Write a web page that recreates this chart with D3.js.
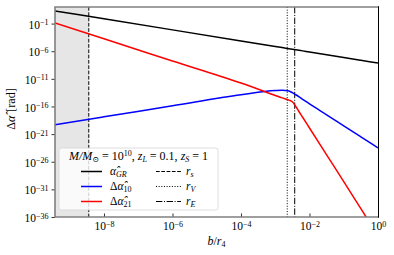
<!DOCTYPE html>
<html>
<head>
<meta charset="utf-8">
<script src="https://cdn.jsdelivr.net/npm/d3@7"></script>
<style>
  body { margin: 0; background: #fff; }
  text { font-family: "Liberation Serif", "DejaVu Serif", serif; }
</style>
</head>
<body>
<script>
  var w = 394, h = 255;
  var margin = {left: 55, top: 7, right: 16, bottom: 38};

  // b / r4 sample points (log10) and the three curves (log10 of rad)
  var logB      = [-9.43, -8, -6, -4, -3, -2.8, -2.6, -2.5, -2.4, -2.3, -2.2, -2, -1.5, -1, -0.5, 0];
  var alphaGR   = [1.29, -0.14, -2.14, -4.14, -5.14, -5.34, -5.54, -5.64, -5.74, -5.84, -5.94, -6.14, -6.64, -7.14, -7.64, -8.14];
  var dAlpha10  = [-19.3, -17.87, -15.87, -13.87, -13.1, -13.05, -13.2, -13.5, -13.88, -14.28, -14.7, -15.55, -17.5, -19.5, -21.5, -23.5];
  var dAlpha21  = [-0.88, -3.76, -7.76, -11.76, -14.0, -14.45, -14.85, -15.15, -16.0, -17.0, -17.95, -19.9, -24.75, -29.6, -34.5, -39.4];

  var rS = 3.6e-9, rV = 2.24e-3, rE = 3.7e-3;
  var xTicks = [1e-8, 1e-6, 1e-4, 1e-2, 1];
  var yTicks = [1e-36, 1e-31, 1e-26, 1e-21, 1e-16, 1e-11, 1e-6, 1e-1];

  var series = [
    {name: "GR", vals: alphaGR, color: "#000000"},
    {name: "10", vals: dAlpha10, color: "#0000ff"},
    {name: "21", vals: dAlpha21, color: "#ff0000"}
  ];

  var svg = d3.select("body").append("svg")
    .attr("width", w).attr("height", h);

  var x = d3.scaleLog().domain([Math.pow(10, -9.43), 1]).range([margin.left, w - margin.right]);
  var y = d3.scaleLog().domain([1e-36, 1e2]).range([h - margin.bottom, margin.top]);

  svg.append("clipPath").attr("id", "clip").append("rect")
    .attr("x", x.range()[0]).attr("y", y.range()[1])
    .attr("width", x.range()[1] - x.range()[0])
    .attr("height", y.range()[0] - y.range()[1]);

  var plot = svg.append("g").attr("clip-path", "url(#clip)");

  // shaded region left of r_s
  plot.append("rect")
    .attr("x", x.range()[0]).attr("y", y.range()[1])
    .attr("width", x(rS) - x.range()[0])
    .attr("height", y.range()[0] - y.range()[1])
    .attr("fill", "#e6e6e6");

  var vlines = [
    {v: rS, dash: "3.7,1.6"},
    {v: rV, dash: "1,1.65"},
    {v: rE, dash: "6.4,1.6,1,1.6"}
  ];
  plot.selectAll(".vl").data(vlines).enter().append("line")
    .attr("x1", function (d) { return x(d.v); })
    .attr("x2", function (d) { return x(d.v); })
    .attr("y1", y.range()[1]).attr("y2", y.range()[0])
    .attr("stroke", "#000").attr("stroke-width", 1)
    .attr("stroke-dasharray", function (d) { return d.dash; });

  var line = d3.line()
    .x(function (d) { return x(Math.pow(10, d[0])); })
    .y(function (d) { return y(Math.pow(10, d[1])); })
    .curve(d3.curveMonotoneX);

  plot.selectAll(".curve").data(series).enter().append("path")
    .attr("fill", "none")
    .attr("stroke", function (d) { return d.color; })
    .attr("stroke-width", 1.5)
    .attr("d", function (d) { return line(d3.zip(logB, d.vals)); });

  function supLabel(sel) {
    sel.each(function (d) {
      var t = d3.select(this), e = Math.round(Math.log10(d));
      t.text(null);
      t.append("tspan").text("10");
      t.append("tspan").attr("dy", "-0.45em").attr("font-size", "8px")
        .text(e < 0 ? "\u2212" + (-e) : e);
    });
  }

  // axes
  var gx = svg.append("g")
    .attr("transform", "translate(0," + y.range()[0] + ")")
    .call(d3.axisBottom(x).tickValues(xTicks).tickSizeInner(-3.5).tickSizeOuter(0).tickPadding(5));
  gx.select(".domain").remove();
  gx.selectAll(".tick line").attr("stroke", "#333");
  gx.selectAll(".tick text").attr("font-size", "11.5px").attr("fill", "#000").call(supLabel);

  var gy = svg.append("g")
    .attr("transform", "translate(" + x.range()[0] + ",0)")
    .call(d3.axisLeft(y).tickValues(yTicks).tickSizeInner(3.5).tickSizeOuter(0).tickPadding(3));
  gy.select(".domain").remove();
  gy.selectAll(".tick line").attr("stroke", "#333");
  gy.selectAll(".tick text").attr("font-size", "11.5px").attr("fill", "#000").attr("dy", "0.4em").call(supLabel);

  // spines
  var x0 = x.range()[0], x1 = x.range()[1], y0 = y.range()[1], y1 = y.range()[0];
  svg.append("path").attr("d", "M" + x1 + "," + y0 + "H" + x0 + "V" + y1 + "H" + x1)
    .attr("fill", "none").attr("stroke", "#808080").attr("stroke-width", 1.6);
  svg.append("line").attr("x1", x1 + 0.5).attr("x2", x1 + 0.5).attr("y1", y0 - 0.8).attr("y2", y1 + 0.8)
    .attr("stroke", "#000").attr("stroke-width", 1);

  // axis labels
  svg.append("text")
    .attr("x", (x0 + x1) / 2).attr("y", 245)
    .attr("text-anchor", "middle").attr("font-size", "12px")
    .call(function (t) {
      t.append("tspan").attr("font-style", "italic").text("b");
      t.append("tspan").text("/");
      t.append("tspan").attr("font-style", "italic").text("r");
      t.append("tspan").attr("font-size", "8px").attr("dy", "2").text("4");
    });

  svg.append("text")
    .attr("transform", "translate(15," + ((y0 + y1) / 2 - 3) + ") rotate(-90)")
    .attr("text-anchor", "middle").attr("font-size", "12px")
    .call(function (t) {
      t.append("tspan").text("\u0394");
      t.append("tspan").attr("font-style", "italic").text("\u03b1\u0302");
      t.append("tspan").attr("dx", "4").text("[rad]");
    });

  // legend
  var leg = svg.append("g");
  leg.append("rect")
    .attr("x", 59).attr("y", 148).attr("width", 159).attr("height", 62)
    .attr("rx", 2.5).attr("fill", "#ffffff").attr("fill-opacity", 0.8)
    .attr("stroke", "#d6d6d6").attr("stroke-width", 0.8);

  leg.append("text").attr("x", 138.5).attr("y", 160)
    .attr("text-anchor", "middle").attr("font-size", "12px").attr("font-style", "italic")
    .call(function (t) {
      t.append("tspan").text("M/M");
      t.append("tspan").attr("font-size", "8px").attr("dy", "2").attr("font-style", "normal").text("\u2299");
      t.append("tspan").attr("dy", "-2").attr("font-style", "normal").text(" = 10");
      t.append("tspan").attr("font-size", "8px").attr("dy", "-4").attr("font-style", "normal").text("10");
      t.append("tspan").attr("dy", "4").attr("font-style", "normal").text(", ");
      t.append("tspan").text("z");
      t.append("tspan").attr("font-size", "8px").attr("dy", "2").text("L");
      t.append("tspan").attr("dy", "-2").attr("font-style", "normal").text(" = 0.1, ");
      t.append("tspan").text("z");
      t.append("tspan").attr("font-size", "8px").attr("dy", "2").text("S");
      t.append("tspan").attr("dy", "-2").attr("font-style", "normal").text(" = 1");
    });

  var rowsY = [171.5, 186.5, 201.5];
  var subs = ["GR", "10", "21"];
  series.forEach(function (s, i) {
    leg.append("line").attr("x1", 81).attr("x2", 102)
      .attr("y1", rowsY[i]).attr("y2", rowsY[i])
      .attr("stroke", s.color).attr("stroke-width", 1.5);
    var t = leg.append("text").attr("x", 110).attr("y", rowsY[i] + 3.5).attr("font-size", "11.5px");
    if (i === 0) {
      t.append("tspan").attr("font-style", "italic").text("\u03b1\u0302");
      t.append("tspan").attr("font-size", "8px").attr("font-style", "italic").attr("dy", "2").text(subs[i]);
    } else {
      t.append("tspan").text("\u0394");
      t.append("tspan").attr("font-style", "italic").text("\u03b1\u0302");
      t.append("tspan").attr("font-size", "8px").attr("dy", "2").text(subs[i]);
    }
  });

  var rightLabels = ["s", "V", "E"];
  vlines.forEach(function (v, i) {
    leg.append("line").attr("x1", 156).attr("x2", 181)
      .attr("y1", rowsY[i]).attr("y2", rowsY[i])
      .attr("stroke", "#000").attr("stroke-width", 1)
      .attr("stroke-dasharray", v.dash);
    var t = leg.append("text").attr("x", 186).attr("y", rowsY[i] + 3).attr("font-size", "11.5px").attr("font-style", "italic");
    t.append("tspan").text("r");
    t.append("tspan").attr("font-size", "8px").attr("dy", "2").text(rightLabels[i]);
  });
</script>
</body>
</html>
